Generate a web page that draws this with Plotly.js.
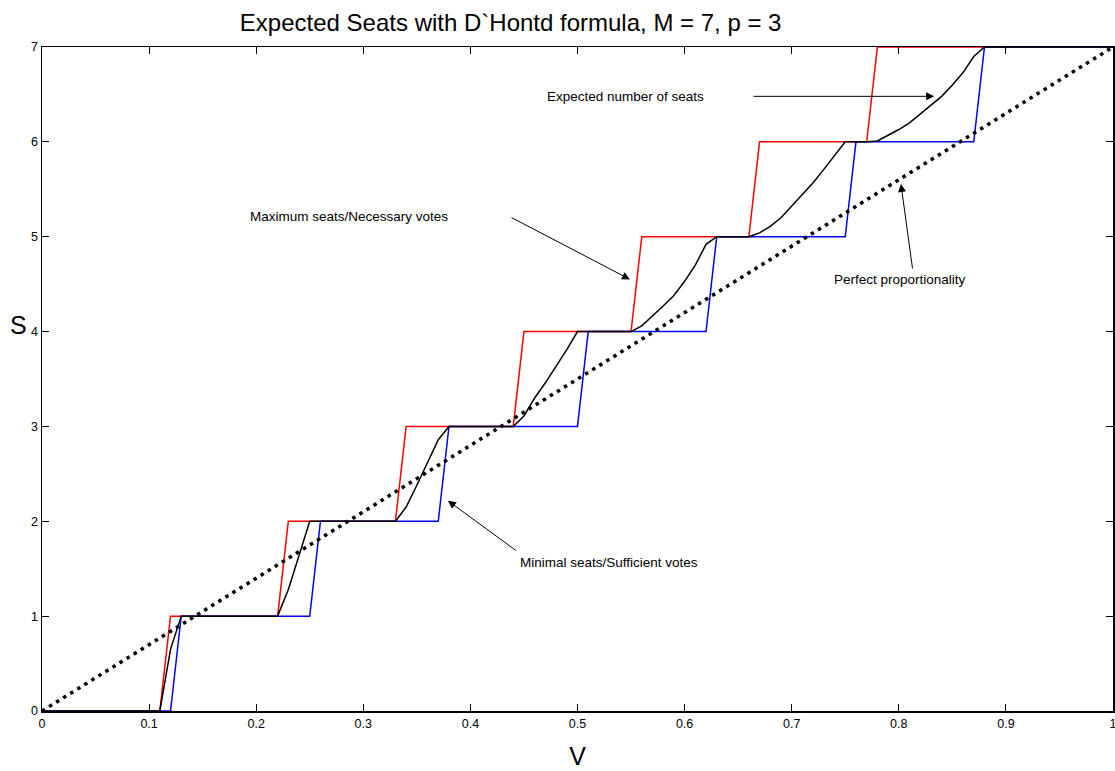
<!DOCTYPE html>
<html>
<head>
<meta charset="utf-8">
<script src="https://cdn.plot.ly/plotly-3.0.1.min.js"></script>
<style>html,body{margin:0;padding:0;background:#fff;}#chart{width:1115px;height:771px;}</style>
</head>
<body>
<div id="chart"></div>
<script>
// Maximum seats / necessary votes (red)
const maxV = [0,0.11,0.12,0.22,0.23,0.33,0.34,0.44,0.45,0.55,0.56,0.66,0.67,0.77,0.78,1];
const maxS = [0,0,1,1,2,2,3,3,4,4,5,5,6,6,7,7];
// Minimal seats / sufficient votes (blue)
const minV = [0,0.12,0.13,0.25,0.26,0.37,0.38,0.50,0.51,0.62,0.63,0.75,0.76,0.87,0.88,1];
const minS = [0,0,1,1,2,2,3,3,4,4,5,5,6,6,7,7];
// Expected number of seats (black)
const expV = [0,0.11,0.12,0.13,0.22,0.23,0.24,0.25,0.33,0.34,0.35,0.36,0.37,0.38,
  0.44,0.45,0.46,0.47,0.48,0.49,0.50,0.55,0.56,0.57,0.58,0.59,0.60,0.61,0.62,0.63,
  0.66,0.67,0.68,0.69,0.70,0.71,0.72,0.73,0.74,0.75,
  0.77,0.78,0.79,0.80,0.81,0.82,0.83,0.84,0.85,0.86,0.87,0.88,1];
const expS = [0,0,0.65,1,1,1.28,1.64,2,2,2.15,2.38,2.62,2.86,3,
  3,3.11,3.3,3.46,3.63,3.81,4,4,4.06,4.16,4.27,4.38,4.53,4.70,4.92,5,
  5,5.04,5.11,5.2,5.32,5.44,5.57,5.71,5.86,6,
  6,6.01,6.07,6.13,6.2,6.29,6.38,6.48,6.6,6.73,6.9,7,7];
// Perfect proportionality
const propV = [0,1];
const propS = [0,7];

const xTicks = [0,0.1,0.2,0.3,0.4,0.5,0.6,0.7,0.8,0.9,1];
const xTickText = ['0','0.1','0.2','0.3','0.4','0.5','0.6','0.7','0.8','0.9','1'];
const yTicks = [0,1,2,3,4,5,6,7];

const FONT = 'Liberation Sans, Arial, sans-serif';

const traces = [
  {x: maxV, y: maxS, mode: 'lines', line: {color: '#ff0000', width: 1.5}, hoverinfo: 'skip'},
  {x: minV, y: minS, mode: 'lines', line: {color: '#0000ff', width: 1.5}, hoverinfo: 'skip'},
  {x: expV, y: expS, mode: 'lines', line: {color: '#000000', width: 1.5}, hoverinfo: 'skip'},
  {x: propV, y: propS, mode: 'lines', line: {color: '#000000', width: 3.5, dash: '3.5px,4.8px'}, hoverinfo: 'skip'}
];

const txt = (t, x, y) => ({text: t, x: x, y: y, xref: 'x', yref: 'y', showarrow: false,
  xanchor: 'left', yanchor: 'middle', font: {family: FONT, size: 13.5, color: '#000'}});
const arr = (x, y, ax, ay) => ({text: '', x: x, y: y, ax: ax, ay: ay, xref: 'x', yref: 'y',
  axref: 'x', ayref: 'y', showarrow: true, arrowhead: 2, arrowsize: 1.6, arrowwidth: 1, arrowcolor: '#000'});

const layout = {
  width: 1115, height: 771,
  margin: {l: 42, r: 2, t: 47, b: 60},
  paper_bgcolor: '#fff', plot_bgcolor: '#fff',
  showlegend: false,
  title: {text: 'Expected Seats with D`Hontd formula, M = 7, p = 3', x: 0.458, xanchor: 'center',
    y: 0.971, yanchor: 'middle', font: {family: FONT, size: 24, color: '#000'}},
  xaxis: {range: [0, 1], tickvals: xTicks, ticktext: xTickText, ticks: 'inside', ticklen: 7,
    tickcolor: '#000', tickwidth: 1, showline: true, linecolor: '#000', linewidth: 1.5, mirror: 'ticks',
    showgrid: false, zeroline: false, ticklabeloverflow: 'allow',
    tickfont: {family: FONT, size: 12.5, color: '#000'},
    title: {text: 'V', font: {family: FONT, size: 25, color: '#000'}, standoff: 18}},
  yaxis: {range: [0, 7], tickvals: yTicks, ticks: 'inside', ticklen: 7,
    tickcolor: '#000', tickwidth: 1, showline: true, linecolor: '#000', linewidth: 1.5, mirror: 'ticks',
    showgrid: false, zeroline: false, tickfont: {family: FONT, size: 12.5, color: '#000'}},
  annotations: [
    txt('Expected number of seats', 0.470, 6.48),
    txt('Maximum seats/Necessary votes', 0.192, 5.21),
    txt('Perfect proportionality', 0.738, 4.55),
    txt('Minimal seats/Sufficient votes', 0.444, 1.57),
    arr(0.833, 6.48, 0.663, 6.48),
    arr(0.549, 4.55, 0.437, 5.21),
    arr(0.802, 5.556, 0.813, 4.65),
    arr(0.379, 2.217, 0.444, 1.68),
    {text: 'S', xref: 'paper', yref: 'paper', x: -0.032, y: 0.582, showarrow: false,
      xanchor: 'left', yanchor: 'middle', font: {family: FONT, size: 25, color: '#000'}}
  ]
};

Plotly.newPlot('chart', traces, layout, {staticPlot: true, displayModeBar: false});
</script>
</body>
</html>
